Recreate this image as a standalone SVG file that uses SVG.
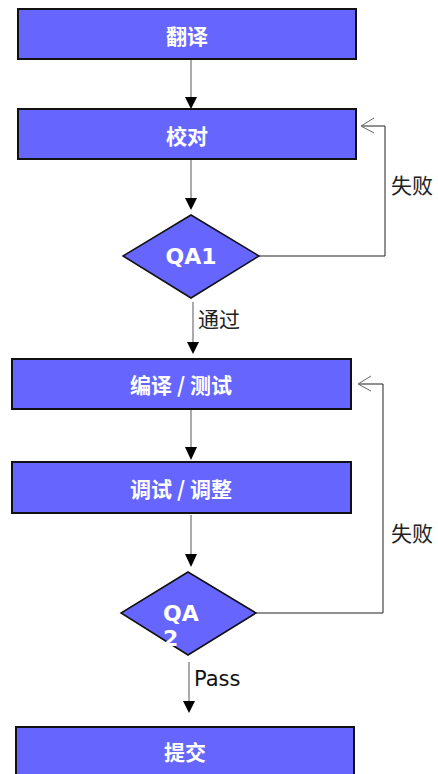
<svg xmlns="http://www.w3.org/2000/svg" width="438" height="774" viewBox="0 0 438 774">
<style>
.box{fill:#6666FF;stroke:#111;stroke-width:2}
.dia{fill:#6666FF;stroke:#111;stroke-width:1.5}
.t{fill:#fff;font-family:"Noto Sans CJK SC","Liberation Sans",sans-serif;font-weight:bold;font-size:21px;text-anchor:middle}
.q{fill:#fff;font-family:"DejaVu Sans","Liberation Sans",sans-serif;font-weight:bold;font-size:22px}
.v{stroke:#aaa;stroke-width:2;fill:none}
.head{fill:#000}
.fb{stroke:#222;stroke-width:1;fill:none}
.open{stroke:#666;stroke-width:1;fill:none}
.lbl{fill:#222;font-family:"Noto Sans CJK SC","DejaVu Sans",sans-serif;font-size:21px}
.lat{fill:#111;font-family:"DejaVu Sans","Liberation Sans",sans-serif;font-size:21px}
</style>
<g id="connectors">
<line class="v" x1="191" y1="60" x2="191" y2="98"/>
<polygon class="head" points="185,97 197,97 191,109"/>
<line class="v" x1="191" y1="160" x2="191" y2="199"/>
<polygon class="head" points="185,198 197,198 191,210"/>
<line class="v" x1="193" y1="302" x2="193" y2="343"/>
<polygon class="head" points="187,342 199,342 193,354"/>
<line class="v" x1="191" y1="410" x2="191" y2="448"/>
<polygon class="head" points="185,447 197,447 191,460"/>
<line class="v" x1="191" y1="515" x2="191" y2="555"/>
<polygon class="head" points="185,554 197,554 191,567"/>
<line class="v" x1="189" y1="662" x2="189" y2="702"/>
<polygon class="head" points="183,701 195,701 189,713"/>
<polyline class="fb" points="259,256 385,256 385,126 362,126"/>
<polyline class="open" points="374,118 361,126 374,133"/>
<polyline class="fb" points="256,613 383,613 383,384 359,384"/>
<polyline class="open" points="371,376 358,384 371,391"/>
<text class="lbl" x="198" y="327">通过</text>
<text class="lat" x="194" y="686">Pass</text>
<text class="lbl" x="391" y="193">失败</text>
<text class="lbl" x="391" y="541">失败</text>
</g>
<g id="n1"><rect class="box" x="18" y="9" width="338" height="50"/><text class="t" x="187" y="44">翻译</text></g>
<g id="n2"><rect class="box" x="18" y="109" width="338" height="50"/><text class="t" x="187" y="144">校对</text></g>
<g id="qa1"><polygon class="dia" points="191,215 259,256 191,298 123,256"/><text class="q" x="191" y="264" text-anchor="middle">QA1</text></g>
<g id="n3"><rect class="box" x="12" y="359" width="339" height="50"/><text class="t" x="181" y="393">编译<tspan dx="5">/</tspan><tspan dx="5">测试</tspan></text></g>
<g id="n4"><rect class="box" x="12" y="462" width="339" height="51"/><text class="t" x="181" y="497">调试<tspan dx="5">/</tspan><tspan dx="5">调整</tspan></text></g>
<g id="qa2"><polygon class="dia" points="188,572 256,613 188,655 121,613"/><text class="q" x="163" y="621">QA</text><text class="q" x="163" y="646">2</text></g>
<g id="n5"><rect class="box" x="16" y="727" width="338" height="60"/><text class="t" x="185" y="760">提交</text></g>
</svg>
